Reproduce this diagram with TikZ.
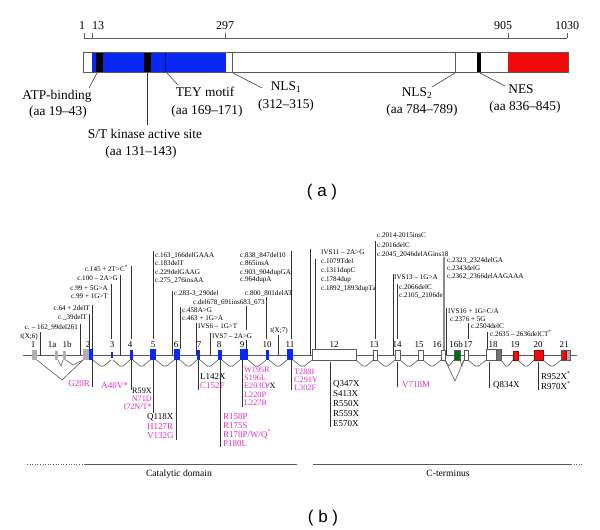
\documentclass[tikz,border=0pt]{standalone}
\usepackage{fontspec}
\setmainfont{Liberation Serif}
\newfontfamily\sansf{Liberation Sans}
\definecolor{kblue}{RGB}{10,40,245}
\definecolor{kred}{RGB}{240,10,10}
\definecolor{kmag}{RGB}{228,45,205}
\definecolor{kgreen}{RGB}{0,110,20}
\definecolor{kgrey}{RGB}{175,175,175}
\definecolor{kline}{RGB}{90,90,90}
\tikzset{
 ln/.style={draw=black!80, line width=0.55pt},
 lbl/.style={font=\fontsize{13.4}{15}\selectfont, inner sep=0pt, anchor=mid},
 scl/.style={font=\fontsize{12}{14}\selectfont, inner sep=0pt, anchor=mid},
 ann/.style={font=\fontsize{7.1}{8}\selectfont, inner sep=0pt},
 annw/.style={ann, anchor=mid west},
 anne/.style={ann, anchor=mid east},
 mut/.style={font=\fontsize{9}{10}\selectfont, inner sep=0pt},
 mutw/.style={mut, anchor=mid west},
 mute/.style={mut, anchor=mid east},
 tight/.style={font=\fontsize{8.2}{9}\selectfont},
 mag/.style={text=kmag},
 exnum/.style={font=\fontsize{9}{10}\selectfont, inner sep=0pt, anchor=mid},
 exbox/.style={draw=kline, line width=0.4pt},
 captext/.style={font=\sansf\fontsize{17}{19}\selectfont, inner sep=0pt, anchor=mid},
 dom/.style={font=\fontsize{9.6}{11}\selectfont, inner sep=0pt, anchor=mid},
}
\begin{document}
\begin{tikzpicture}[x=1pt,y=-1pt]
\useasboundingbox[fill=white] (0,0) rectangle (600,530);

% ---------- (a) protein bar ----------
\draw[kline, line width=0.7pt] (84,38) -- (567,38);
\foreach \t in {84,92,225,508,567} \draw[kline, line width=0.7pt] (\t,33) -- (\t,38);
\node[scl] (s1) at (82,27) {1};
\node[scl] (s13) at (98,27) {13};
\node[scl] (s297) at (225,27) {297};
\node[scl] (s905) at (503,27) {905};
\node[scl] (s1030) at (567,27) {1030};

\fill[white] (83,52) rectangle (568,72);
\fill[kblue] (92,52) rectangle (226,72);
\fill[black] (96,52) rectangle (103,72);
\fill[black] (144,52) rectangle (151,72);
\draw[black!60!blue, line width=0.8pt] (165,52) -- (165,72);
\draw[kline, line width=0.7pt] (232,52) -- (232,72);
\draw[kline, line width=0.7pt] (455,52) -- (455,72);
\fill[black] (477,52) rectangle (481,72);
\fill[kred] (508,52) rectangle (568,72);
\draw[kline, line width=0.8pt] (83,52) rectangle (568,72);

\node[lbl] (atp) at (57,97) {ATP-binding};
\node[lbl] (atpaa) at (58,113) {(aa 19–43)};
\node[lbl] (stk) at (145,136) {S/T kinase active site};
\node[lbl] (stkaa) at (141,153) {(aa 131–143)};
\node[lbl] (tey) at (205,94) {TEY motif};
\node[lbl] (teyaa) at (207,112) {(aa 169–171)};
\node[lbl] (nls1) at (286,88) {NLS\textsubscript{1}};
\node[lbl] (nls1aa) at (286,106) {(312–315)};
\node[lbl] (nls2) at (417,94) {NLS\textsubscript{2}};
\node[lbl] (nls2aa) at (422,111) {(aa 784–789)};
\node[lbl] (nes) at (521,91) {NES};
\node[lbl] (nesaa) at (525,108) {(aa 836–845)};
\draw[ln] (97,73) -- (89,88);
\draw[ln] (147,73) -- (147,125);
\draw[ln] (167,73) -- (178,85);
\draw[ln] (233,73) -- (262,88);
\draw[ln] (455,73) -- (432,87);
\draw[ln] (480,73) -- (505,86);

\node[captext] (capa) at (322,194) {( a )};

% ---------- (b) gene ----------
\draw[kline, line width=1pt] (23,355) -- (577,355);

% introns below
\foreach \a/\b in {93/111,113/130,133/150,156/174,180/197,200/218,222/240,248/266,269/287,293/312,356/373,377/395,400/418,423/441,468/486,501/513,518/534,543/561}
  \draw[kline, line width=0.6pt] (\a,360) -- ({\a+0.4*(\b-\a)},366) -- ({\b-0.4*(\b-\a)},366) -- (\b,360);
\draw[kline, line width=0.6pt] (37,360) -- (62,380) -- (83,360);
\draw[kline, line width=0.6pt] (58,360) -- (61,366) -- (63,360);
\draw[kline, line width=0.6pt] (66,360) -- (73,365) -- (83,360);
\draw[kline, line width=0.6pt] (445,360) -- (455,381) -- (464,360);
\draw[kline, line width=0.6pt] (445,360) -- (449,366) -- (454,360);
\draw[kline, line width=0.6pt] (460,360) -- (462,366) -- (464,360);

% exons
\foreach \x/\y/\xx/\yy in {32/350/37/360,55/351/58/360,63/351/66/360,83/349/89/360,566/350/570/360}
  \fill[kgrey] (\x,\y) rectangle (\xx,\yy);
\foreach \x/\y/\xx/\yy in {89/349/93/360,111/352/113/358,130/350/133/360,150/349/156/360,174/349/180/360,197/350/200/360,218/350/222/360,240/349/248/360,266/350/269/360,287/349/293/360}
  \fill[kblue] (\x,\y) rectangle (\xx,\yy);
\foreach \x/\y/\xx/\yy in {312/349/356/360,373/350/377/360,395/350/400/360,418/350/423/360,441/350/445/360,464/350/468/360,486/349/496/360}
  \draw[exbox, fill=white] (\x,\y) rectangle (\xx,\yy);
\draw[exbox, fill=kgreen] (454,350) rectangle (460,360);
\draw[exbox, fill=black!55] (496,349) rectangle (501,360);
\foreach \x/\y/\xx/\yy in {513/351/518/360,534/350/543/360,561/350/566/360}
  \draw[draw=red!60!black, line width=0.4pt, fill=kred] (\x,\y) rectangle (\xx,\yy);
\draw[exbox] (561,350) rectangle (570,360);

\foreach \n/\x [count=\i] in {1/33,1a/52,1b/67,2/88,3/112,4/130,5/153,6/176,7/199,8/219,9/242,10/267,11/290,12/334,13/374,14/397,15/419,16/437,16b/456,17/468,18/493,19/515,20/538,21/564}
  \node[exnum] (en\i) at (\x,345.5) {\n};

% annotations above
\node[anne] (u1) at (38,336) {t(X;6)};
\node[anne] (u2) at (78,327) {c. – 162\_99del261};
\node[anne] (u3) at (87,317) {c.\_39delT};
\node[anne] (u4) at (90,308) {c.64 + 2delT};
\node[anne] (u5) at (108,288) {c.99 + 5G>A};
\node[anne] (u6) at (108,296) {c.99 + 1G>T};
\node[anne] (u7) at (118,278) {c.100 – 2A>G};
\node[anne] (u8) at (128,269) {c.145 + 2T>C\textsuperscript{*}};
\draw[ln] (40,332) -- (40,355);
\draw[ln] (80,324) -- (80,355);
\draw[ln] (89,314) -- (89,349);
\draw[ln] (92,305) -- (92,349);
\draw[ln] (111,284) -- (111,339);
\draw[ln] (120,275) -- (120,355);
\draw[ln] (131,266) -- (131,339);

\node[annw] (u9) at (155,255) {c.163\_166delGAAA};
\node[annw] (u10) at (155,263) {c.183delT};
\node[annw] (u11) at (155,272) {c.229delGAAG};
\node[annw] (u12) at (155,280) {c.275\_276insAA};
\draw[ln] (153,251) -- (153,339);
\node[annw] (u13) at (174,293) {c.283-3\_290del};
\draw[ln] (172,291) -- (172,355);
\node[annw] (u14) at (193,302) {c.del678\_691ins683\_673};
\draw[ln] (246,306) -- (246,330);
\draw[ln] (246,340) -- (246,349);
\node[annw] (u15) at (182,310) {c.458A>G};
\node[annw] (u16) at (182,318) {c.463 + 1G>A};
\draw[ln] (180,307) -- (180,349);
\node[annw] (u17) at (198,326) {IVS6 – 1G>T};
\draw[ln] (196,323) -- (196,355);
\node[annw] (u18) at (212,336) {IVS7 – 2A>G};
\draw[ln] (210,333) -- (210,355);
\node[annw] (u19) at (240,255) {c.838\_847del10};
\node[annw] (u20) at (240,263) {c.865insA};
\node[annw] (u21) at (240,272) {c.903\_904dupGA};
\node[annw] (u22) at (240,279) {c.964dupA};
\draw[ln] (291,251) -- (291,339);
\node[annw] (u23) at (245,293) {c.800\_801delAT};
\draw[ln] (266,297) -- (266,339);
\node[ann, anchor=mid] (u24) at (279,330) {t(X;7)};
\draw[ln] (278,335) -- (278,355);
\node[annw] (u25) at (321,252) {IVS11 – 2A>G};
\draw[ln] (310,249) -- (310,355);
\node[annw] (u26) at (321,261) {c.1079Tdel};
\node[annw] (u27) at (321,270) {c.1311dupC};
\node[annw] (u28) at (321,279) {c.1784dup};
\node[annw] (u29) at (321,288) {c.1892\_1893dupTa};
\draw[ln] (315,259) -- (315,349);
\node[annw] (u30) at (377,235) {c.2014-2015insC};
\node[annw] (u31) at (377,245) {c.2016delC};
\node[annw] (u32) at (377,254) {c.2045\_2046delAGins18};
\draw[ln] (375,241) -- (375,339);
\node[annw] (u33) at (394,277) {IVS13 – 1G>A};
\draw[ln] (393,274) -- (393,355);
\node[annw] (u34) at (399,287) {c.2066delC};
\node[annw] (u35) at (399,295) {c.2105\_2106del};
\draw[ln] (397,284) -- (397,339);
\node[annw] (u36) at (447,260) {c.2323\_2324delGA};
\node[annw] (u37) at (447,268) {c.2343delG};
\node[annw] (u38) at (447,276) {c.2362\_2366delAAGAAA};
\draw[kgrey!80!black, line width=2.2pt] (444,257) -- (444,350);
\node[annw] (u39) at (448,311) {IVS16 + 1G>C/A};
\node[annw] (u40) at (450,319) {c.2376 + 5G};
\draw[ln] (446,308) -- (446,355);
\node[annw] (u41) at (471,326) {c.2504delC};
\draw[ln] (468,323) -- (468,339);
\node[annw] (u42) at (490,334) {c.2635 – 2636delCT\textsuperscript{*}};
\draw[ln] (487,332) -- (487,349);

% mutations below
\draw[ln] (92,360) -- (92,387);
\node[mute, mag] (m1) at (90,384) {G20R};
\draw[ln] (131,360) -- (131,390);
\node[mute, mag] (m2) at (128,386) {A40V*};
\node[mute, tight] (m3) at (152,391) {R59X};
\node[mute, tight, mag] (m4) at (152,399) {N71D};
\node[mute, tight, mag] (m5) at (152,407) {I72N/T*};
\draw[ln] (153,360) -- (153,413);
\draw[ln] (176,360) -- (176,440);
\node[mutw] (m6) at (147,417) {Q118X};
\node[mutw, mag] (m7) at (147,427) {H127R};
\node[mutw, mag] (m8) at (147,436) {V132G};
\draw[ln] (198,360) -- (198,390);
\node[mutw] (m9) at (200,377) {L142X};
\node[mutw, mag] (m10) at (200,386) {C152F};
\draw[ln] (220,360) -- (220,447);
\node[mutw, mag] (m11) at (223,417) {R158P};
\node[mutw, mag] (m12) at (223,426) {R175S};
\node[mutw, mag] (m13) at (223,435) {R178P/W/Q\textsuperscript{*}};
\node[mutw, mag] (m14) at (223,444) {P180L};
\draw[ln] (242,360) -- (242,407);
\node[mutw, tight, mag] (m15) at (244,370) {W195R};
\node[mutw, tight, mag] (m16) at (244,378) {S196L};
\node[mutw, tight] (m17) at (244,386) {\textcolor{kmag}{E203D}/X};
\node[mutw, tight, mag] (m18) at (244,395) {L220P};
\node[mutw, tight, mag] (m19) at (244,403) {L227R};
\draw[ln] (291,360) -- (291,390);
\node[mutw, tight, mag] (m20) at (294,372) {T288I};
\node[mutw, tight, mag] (m21) at (294,380) {C291Y};
\node[mutw, tight, mag] (m22) at (294,388) {L302F};
\draw[ln] (330,362) -- (330,427);
\node[mutw] (m23) at (333,384) {Q347X};
\node[mutw] (m24) at (333,394) {S413X};
\node[mutw] (m25) at (333,404) {R550X};
\node[mutw] (m26) at (333,414) {R559X};
\node[mutw] (m27) at (333,424) {E570X};
\draw[ln] (397,362) -- (397,387);
\node[mutw, mag] (m28) at (402,385) {V718M};
\draw[ln] (489,362) -- (489,388);
\node[mutw] (m29) at (493,385) {Q834X};
\draw[ln] (538,362) -- (538,390);
\node[mutw] (m30) at (541,377) {R952X\textsuperscript{*}};
\node[mutw] (m31) at (541,387) {R970X\textsuperscript{*}};

% domains
\draw[kline, line width=0.6pt, dotted] (27,464) -- (85,464);
\draw[kline, line width=1pt] (85,464) -- (297,464);
\draw[kline, line width=1pt] (313,464) -- (571,464);
\draw[kline, line width=0.6pt, dotted] (571,464) -- (583,464);
\node[dom] (cat) at (179,474) {Catalytic domain};
\node[dom] (cter) at (448,474) {C-terminus};

\node[captext] (capb) at (323,520) {( b )};
\end{tikzpicture}
\end{document}
